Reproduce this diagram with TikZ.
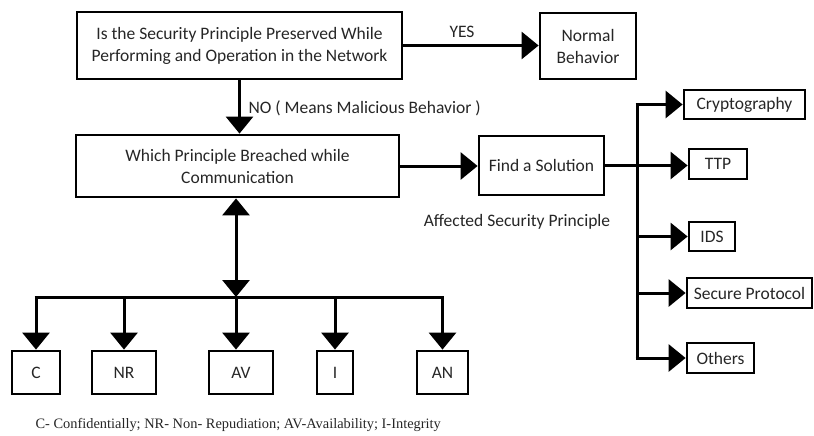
\documentclass[tikz,border=0pt]{standalone}
\usepackage{fontspec}
\setmainfont{Carlito}
\newfontfamily\capfont{Liberation Serif}
\usetikzlibrary{arrows.meta}
\begin{document}
\begin{tikzpicture}[x=1pt,y=-1pt,
  every node/.style={font=\fontsize{17.5}{22}\selectfont, text=black!85},
  box/.style={draw, line width=2.8pt, inner sep=0pt, align=center, text=black!85},
  lnk/.style={line width=3pt},
  tip/.style={},
  arr/.style={lnk, -{Triangle[length=17pt,width=27pt]}},
  darr/.style={lnk, {Triangle[length=17pt,width=27pt]}-{Triangle[length=17pt,width=27pt]}}]
\useasboundingbox (0,0) rectangle (814,436);
% boxes
\node[box, minimum width=325pt, minimum height=67pt] (top) at (239.5,45.5) {Is the Security Principle Preserved While\\Performing and Operation in the Network};
\node[box, minimum width=96pt, minimum height=66pt] (normal) at (588,46) {Normal\\Behavior};
\node[box, minimum width=323pt, minimum height=62pt] (which) at (237.5,166) {Which Principle Breached while\\Communication};
\node[box, minimum width=125pt, minimum height=59pt] (find) at (541.5,165.5) {Find a Solution};
\node[box, minimum width=121pt, minimum height=29pt] (crypto) at (744.5,104.5) {Cryptography};
\node[box, minimum width=58pt, minimum height=30pt] (ttp) at (718,164) {TTP};
\node[box, minimum width=46pt, minimum height=29pt] (ids) at (712,236.5) {IDS};
\node[box, minimum width=125pt, minimum height=30pt] (secure) at (749.5,293) {Secure Protocol};
\node[box, minimum width=67pt, minimum height=30pt] (others) at (720.5,358) {Others};
\node[box, minimum width=48pt, minimum height=43pt] (c) at (36,372.5) {C};
\node[box, minimum width=64pt, minimum height=43pt] (nr) at (124,372.5) {NR};
\node[box, minimum width=64pt, minimum height=43pt] (av) at (241,372.5) {AV};
\node[box, minimum width=36pt, minimum height=43pt] (i) at (335,372.5) {I};
\node[box, minimum width=51pt, minimum height=43pt] (an) at (442.5,372.5) {AN};
% labels
\node (yes) at (462,32) {YES};
\node[anchor=west] (nolab) at (245,108) {NO ( Means Malicious Behavior )};
\node (aff) at (517,222) {Affected Security Principle};
\node[anchor=west, font=\capfont\fontsize{14.4}{16}\selectfont] (cap) at (32,425) {C- Confidentially; NR- Non- Repudiation; AV-Availability; I-Integrity};
% connectors
\draw[arr] (top.east) -- (top.east -| normal.west);
\draw[arr] (top.south) -- (top.south |- which.north);
\draw[arr] (which.east) -- (which.east -| find.west);
\draw[arr] (find.east) -- (find.east -| ttp.west);
\coordinate (bt) at (637,104.5);
\coordinate (bb) at (637,358);
\draw[lnk] (bt) -- (bb);
\draw[arr] ([xshift=-1.5pt]bt) -- (crypto.west);
\draw[arr] (ids.west -| bt) -- (ids.west);
\draw[arr] (secure.west -| bt) -- (secure.west);
\draw[arr] ([xshift=-1.5pt]bb) -- (others.west);
\coordinate (hub) at (236,297);
\draw[darr] (which.south -| hub) -- (hub);
\draw[lnk] ([xshift=-1.5pt]c.north |- hub) -- ([xshift=1.5pt]an.north |- hub);
\draw[arr] (c.north |- hub) -- (c.north);
\draw[arr] (nr.north |- hub) -- (nr.north);
\draw[arr] (hub) -- (hub |- av.north);
\draw[arr] (i.north |- hub) -- (i.north);
\draw[arr] (an.north |- hub) -- (an.north);
\end{tikzpicture}
\end{document}
